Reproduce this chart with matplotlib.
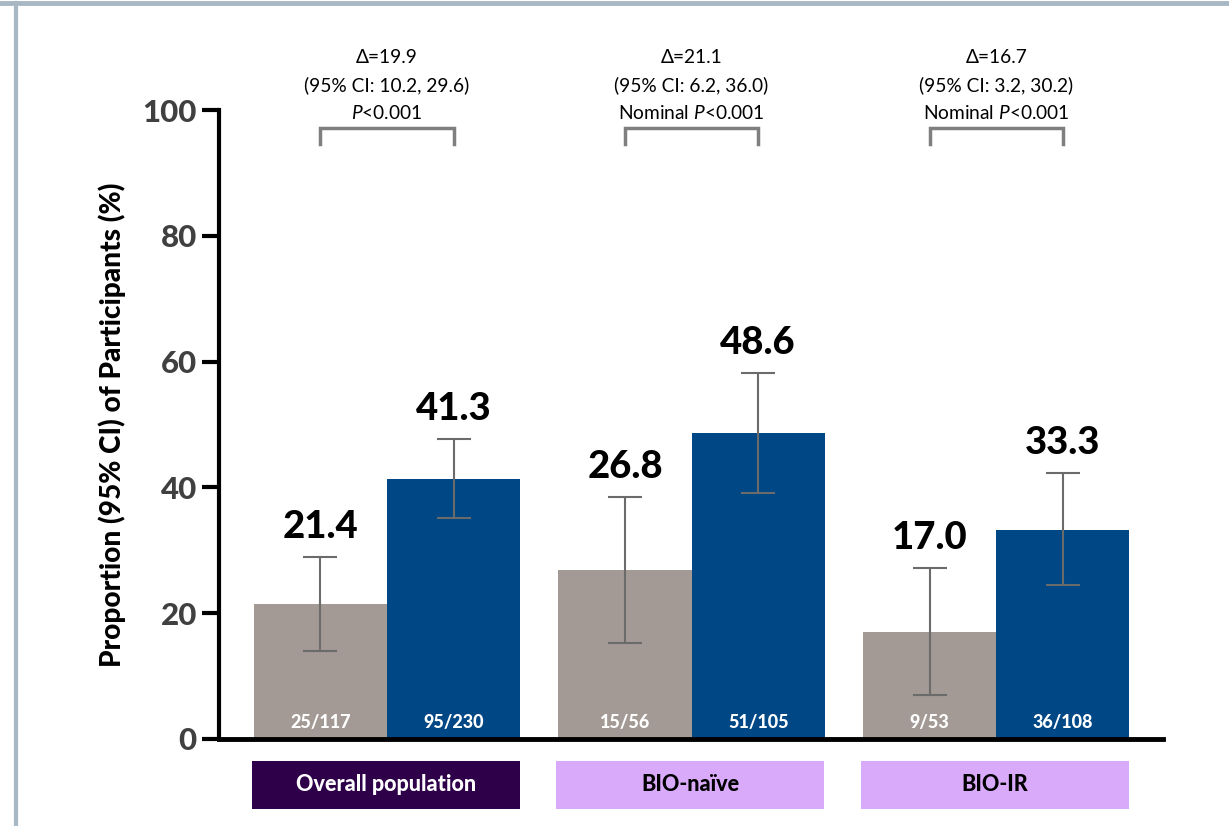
import numpy as np
import matplotlib
matplotlib.use("Agg")
import matplotlib.pyplot as plt
from matplotlib.patches import Rectangle
from matplotlib.lines import Line2D

plt.rcParams['font.family'] = ['Lato', 'DejaVu Sans']
plt.rcParams['mathtext.fontset'] = 'custom'
plt.rcParams['mathtext.rm'] = 'Lato'
plt.rcParams['mathtext.it'] = 'Lato:italic'

# Response rates (%) with 95% CI, placebo vs treatment, by subgroup
groups = ['Overall population', 'BIO-naïve', 'BIO-IR']
placebo = [21.4, 26.8, 17.0]
placebo_lo = [14.0, 15.3, 7.0]
placebo_hi = [28.9, 38.5, 27.2]
treat = [41.3, 48.6, 33.3]
treat_lo = [35.1, 39.1, 24.5]
treat_hi = [47.7, 58.2, 42.3]
placebo_n = ['25/117', '15/56', '9/53']
treat_n = ['95/230', '51/105', '36/108']
delta = ['19.9', '21.1', '16.7']
delta_ci = ['10.2, 29.6', '6.2, 36.0', '3.2, 30.2']
p_prefix = ['', 'Nominal ', 'Nominal ']

grey = '#A39A95'
blue = '#004785'
err_col = '#6B6B6B'
frame_col = '#A7B7C3'

fig = plt.figure(figsize=(12.29, 8.26), dpi=100)
ax = fig.add_axes([219 / 1229, 1 - 739 / 826, (1163 - 219) / 1229, (739 - 110) / 826])

x = np.arange(len(groups))
w = 0.4375
off = w / 2

ax.bar(x - off, placebo, w, color=grey)
ax.bar(x + off, treat, w, color=blue)

p_err = [np.array(placebo) - np.array(placebo_lo), np.array(placebo_hi) - np.array(placebo)]
t_err = [np.array(treat) - np.array(treat_lo), np.array(treat_hi) - np.array(treat)]
ax.errorbar(x - off, placebo, yerr=p_err, fmt='none', ecolor=err_col, elinewidth=1.5,
            capsize=12, capthick=1.5)
ax.errorbar(x + off, treat, yerr=t_err, fmt='none', ecolor=err_col, elinewidth=1.5,
            capsize=12, capthick=1.5)

for i in range(len(groups)):
    # value labels above the CI
    ax.text(x[i] - off, placebo_hi[i] + 3.0, f'{placebo[i]:.1f}', ha='center', va='baseline',
            fontsize=27.5, fontweight='black', color='black')
    ax.text(x[i] + off, treat_hi[i] + 3.0, f'{treat[i]:.1f}', ha='center', va='baseline',
            fontsize=27.5, fontweight='black', color='black')
    # n/N inside bars
    ax.text(x[i] - off, 2.6, placebo_n[i], ha='center', va='center', fontsize=13,
            fontweight='black', color='white')
    ax.text(x[i] + off, 2.6, treat_n[i], ha='center', va='center', fontsize=13,
            fontweight='black', color='white')

    # comparison bracket
    ax.plot([x[i] - off, x[i] - off, x[i] + off, x[i] + off], [94.6, 97.1, 97.1, 94.6],
            color='#7F7F7F', lw=2.5, clip_on=False, solid_joinstyle='miter')
    ax.text(x[i], 108.4, f'Δ={delta[i]}', ha='center', va='center', fontsize=13.8, clip_on=False)
    ax.text(x[i], 103.9, f'(95% CI: {delta_ci[i]})', ha='center', va='center', fontsize=13.8,
            clip_on=False)
    ax.text(x[i], 99.5, p_prefix[i] + r'$\mathit{P}$<0.001', ha='center', va='center',
            fontsize=13.8, clip_on=False)

    # subgroup label box
    box_col = '#2E0049' if i == 0 else '#D9AAF9'
    txt_col = 'white' if i == 0 else 'black'
    ax.add_patch(Rectangle((x[i] - 0.445, -11.1), 0.88, 7.6, facecolor=box_col,
                           edgecolor='none', clip_on=False))
    ax.text(x[i] - 0.005, -7.3, groups[i], ha='center', va='center', fontsize=15.5,
            fontweight='black', color=txt_col, clip_on=False)

ax.set_xlim(-0.552, 2.548)
ax.set_ylim(0, 100)
ax.set_yticks([0, 20, 40, 60, 80, 100])
ax.set_xticks([])
ax.tick_params(axis='y', length=12, width=3, labelsize=22.5, labelcolor='#404040', pad=4)
for lab in ax.get_yticklabels():
    lab.set_fontweight('black')
ax.spines['top'].set_visible(False)
ax.spines['right'].set_visible(False)
ax.spines['left'].set_linewidth(3)
ax.spines['bottom'].set_linewidth(3.5)
ax.set_ylabel('Proportion (95% CI) of Participants (%)', fontsize=20.2, fontweight='black',
              color='black', labelpad=12)

# page frame lines
fig.add_artist(Line2D([0, 1], [1 - 3 / 826, 1 - 3 / 826], color=frame_col, lw=3.5))
fig.add_artist(Line2D([16 / 1229, 16 / 1229], [0, 1 - 3 / 826], color=frame_col, lw=3))

fig.savefig('out.png', dpi=100)
